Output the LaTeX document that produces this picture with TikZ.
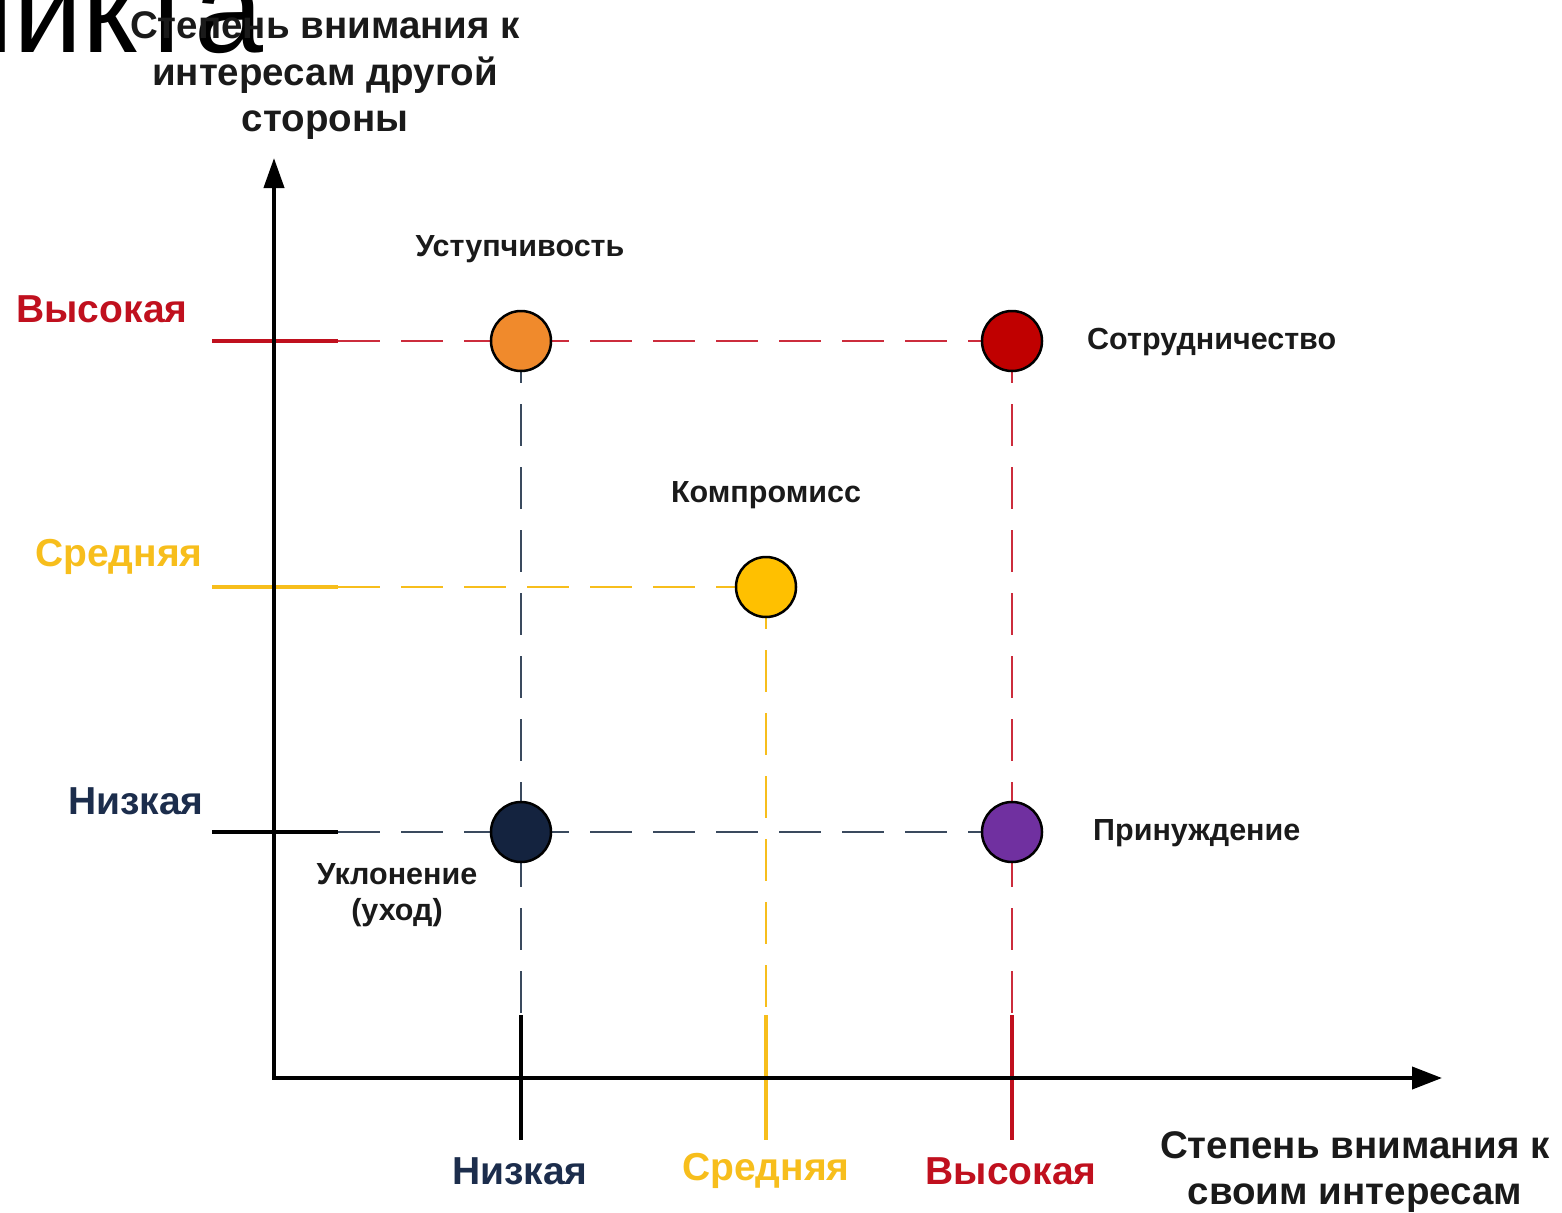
\documentclass[tikz,border=0pt]{standalone}
\usepackage{fontspec}
\setmainfont{Liberation Sans}
\usetikzlibrary{arrows.meta,backgrounds}
\definecolor{cred}{HTML}{C0101E}
\definecolor{credl}{HTML}{CC2C3C}
\definecolor{corange}{HTML}{F08A2C}
\definecolor{cdot}{HTML}{C00000}
\definecolor{cyel}{HTML}{F7BE1C}
\definecolor{cyfill}{HTML}{FFC000}
\definecolor{cnavy}{HTML}{1C2D4C}
\definecolor{cnfill}{HTML}{14233F}
\definecolor{cslate}{HTML}{3A4A5E}
\definecolor{cpurple}{HTML}{7030A0}
\definecolor{ctext}{HTML}{1A1A1A}
\begin{document}
\begin{tikzpicture}[x=1pt,y=-1pt,
  lvl/.style={font=\fontsize{39}{44}\selectfont\bfseries, inner sep=0},
  axtitle/.style={font=\fontsize{38.5}{46.5}\selectfont\bfseries, align=center, inner sep=0, text=ctext},
  ptlabel/.style={font=\fontsize{30.5}{36}\selectfont\bfseries, align=center, inner sep=0, text=ctext},
  dot/.style={circle, draw=black, line width=2.5pt, minimum size=60pt, inner sep=0},
  tick/.style={line width=4pt},
  dashline/.style={line width=2.5pt, dash pattern=on 42pt off 21pt},
  stem/.style={line width=3.5pt}]
\useasboundingbox (0,0) rectangle (1562,1212);

% fragment of a title
\node[font=\fontsize{124}{124}\selectfont, anchor=base west, inner sep=0, text=black] (frag) at (-59,53) {ликта};

% axis titles
\node[axtitle] (ytitle) at (325,76) {Степень внимания к\\интересам другой\\стороны};
\node[axtitle] (xtitle) at (1355,1172) {Степень внимания к\\своим интересам};

% axes
\coordinate (O) at (274,1078);
\coordinate (ytip) at (274,158);
\coordinate (xtip) at (1442,1078);
\draw[line width=4pt, line join=miter, {Triangle[length=30pt,width=20pt]}-{Triangle[length=30pt,width=22pt]}] (ytip) -- (O) -- (xtip);

% points
\node[dot, fill=corange] (ust) at (521,341) {};
\node[dot, fill=cdot] (sotr) at (1012,341) {};
\node[dot, fill=cyfill] (komp) at (766,587) {};
\node[dot, fill=cnfill] (ukl) at (521,832) {};
\node[dot, fill=cpurple] (prin) at (1012,832) {};

% tick coordinates
\coordinate (hiL) at (212,341); \coordinate (hiS) at (338,341);
\coordinate (miL) at (212,587); \coordinate (miS) at (338,587);
\coordinate (loL) at (212,832); \coordinate (loS) at (338,832);
\coordinate (aTop) at (521,1015); \coordinate (aBot) at (521,1140);
\coordinate (bTop) at (766,1015); \coordinate (bBot) at (766,1140);
\coordinate (cTop) at (1012,1015); \coordinate (cBot) at (1012,1140);

\begin{scope}[on background layer]
  % horizontal guides
  \draw[tick, cred] (hiL) -- (hiS);
  \draw[dashline, credl] (hiS) -- (sotr.center);
  \draw[tick, cyel] (miL) -- (miS);
  \draw[dashline, cyel] (miS) -- (komp.center);
  \draw[tick, black] (loL) -- (loS);
  \draw[dashline, cslate] (loS) -- (prin.center);
  % vertical guides
  \draw[dashline, cslate] (ust.center) -- (aTop);
  \draw[dashline, cyel] (komp.center) -- (bTop);
  \draw[dashline, credl] (sotr.center) -- (cTop);
  \draw[stem, black] (aTop) -- (aBot);
  \draw[stem, cyel] (bTop) -- (bBot);
  \draw[stem, cred] (cTop) -- (cBot);
\end{scope}

% level labels, left
\node[lvl, text=cred] (lhi) at (102,309) {Высокая};
\node[lvl, text=cyel] (lmid) at (119,557) {Средняя};
\node[lvl, text=cnavy] (llo) at (136,801) {Низкая};
% level labels, bottom
\node[lvl, text=cnavy] (blo) at (520,1171) {Низкая};
\node[lvl, text=cyel] (bmid) at (766,1171) {Средняя};
\node[lvl, text=cred] (bhi) at (1011,1171) {Высокая};

% point labels
\node[ptlabel] (tust) at (520,249) {Уступчивость};
\node[ptlabel, anchor=west] (tsotr) at (1087,342) {Сотрудничество};
\node[ptlabel] (tkomp) at (766,495) {Компромисс};
\node[ptlabel, anchor=west] (tprin) at (1093,833) {Принуждение};
\node[ptlabel] (tukl) at (397,895) {Уклонение\\(уход)};
\end{tikzpicture}
\end{document}
